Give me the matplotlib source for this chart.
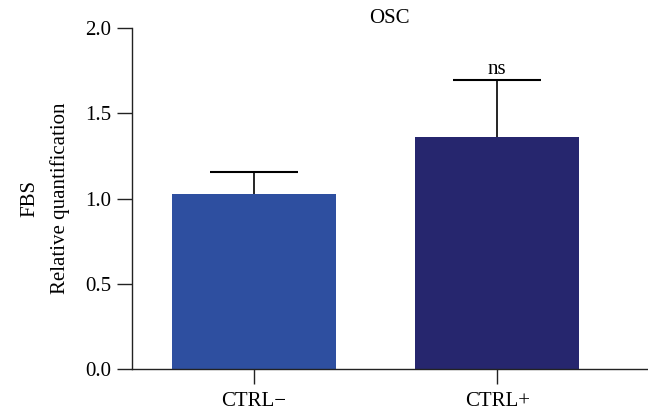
import matplotlib
matplotlib.use("Agg")
import matplotlib.pyplot as plt
import numpy as np

categories = ["CTRL\u2212", "CTRL+"]
values = [1.026, 1.36]
errors = [0.13, 0.335]
colors = ["#2E4FA0", "#26266E"]
yticks = [0.0, 0.5, 1.0, 1.5, 2.0]
title = "OSC"
ylabel = "FBS\nRelative quantification"
annotation = "ns"

plt.rcParams['font.family'] = ['Liberation Serif', 'DejaVu Serif']
plt.rcParams['font.size'] = 15

fig = plt.figure(figsize=(6.48, 4.17), dpi=100)
ax = fig.add_axes([132/648, 1-369/417, 1-132/648-1/648, (369-28)/417])

x = np.arange(len(categories))
ax.bar(x, values, width=0.672, color=colors, zorder=2)
eb = ax.errorbar(x, values, yerr=[np.zeros(len(errors)), errors], fmt='none',
                 ecolor='black', elinewidth=1.2, capsize=32, capthick=1.5, zorder=3)
caps = eb[1]
if len(caps) >= 2:
    caps[0].set_visible(False)

ax.set_xlim(-0.5, 1.615)
ax.set_ylim(0, 2.0)
ax.set_yticks(yticks)
ax.set_yticklabels([f"{t:.1f}" for t in yticks])
ax.set_xticks(x)
ax.set_xticklabels(categories)

for s in ['top', 'right']:
    ax.spines[s].set_visible(False)
for s in ['left', 'bottom']:
    ax.spines[s].set_linewidth(1.0)
    ax.spines[s].set_color('#222222')
ax.tick_params(axis='y', length=10.8, width=1.0, color='#222222', pad=4)
ax.tick_params(axis='x', length=10.8, width=1.0, color='#222222', pad=6)

ax.set_title(title, pad=1, fontsize=15)
ax.set_ylabel(ylabel, labelpad=11, linespacing=1.75)
ax.text(x[1], values[1] + errors[1] + 0.004, annotation, ha='center', va='bottom', fontsize=15)

fig.savefig("out.png", dpi=100)
